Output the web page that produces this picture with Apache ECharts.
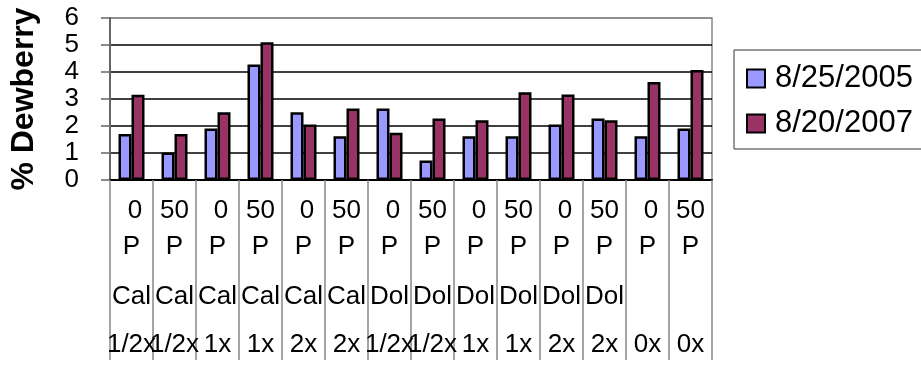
<!DOCTYPE html>
<html><head><meta charset="utf-8">
<script src="https://cdn.jsdelivr.net/npm/echarts@6/dist/echarts.min.js"></script>
<style>html,body{margin:0;padding:0;background:#fff}#c{width:921px;height:365px}</style>
</head><body><div id="c"></div>
<script>
var doses = ['0','50','0','50','0','50','0','50','0','50','0','50','0','50'];
var units = ['P','P','P','P','P','P','P','P','P','P','P','P','P','P'];
var products = ['Cal','Cal','Cal','Cal','Cal','Cal','Dol','Dol','Dol','Dol','Dol','Dol','',''];
var rates = ['1/2x','1/2x','1x','1x','2x','2x','1/2x','1/2x','1x','1x','2x','2x','0x','0x'];
var series2005 = [1.70,1.02,1.91,4.28,2.51,1.62,2.65,0.72,1.62,1.62,2.06,2.28,1.62,1.91];
var series2007 = [3.16,1.70,2.51,5.10,2.06,2.65,1.75,2.28,2.21,3.25,3.17,2.21,3.63,4.07];
var seriesNames = ['8/25/2005','8/20/2007'];

var cats = doses.map(function(d,i){return i;});
var font = 'Liberation Sans, Arial, sans-serif';
var chart = echarts.init(document.getElementById('c'));
chart.setOption({
  animation:false,
  textStyle:{fontFamily:font},
  grid:{left:104,right:209,top:18,bottom:185,show:true,borderColor:'#888',borderWidth:1.5},
  legend:{
    orient:'vertical',left:734,top:50,
    data:seriesNames,
    itemWidth:18,itemHeight:18,itemGap:14,
    padding:[13,45,10,12],
    borderColor:'#333',borderWidth:1,
    textStyle:{fontSize:31,fontFamily:font,color:'#000',padding:[0,0,0,5]},
    icon:'rect'
  },
  xAxis:{
    type:'category',data:cats,
    axisLine:{lineStyle:{color:'#000',width:2}},
    axisTick:{show:true,length:180,lineStyle:{color:'#888',width:1.5}},
    axisLabel:{
      interval:0,margin:13,color:'#000',hideOverlap:false,fontSize:26,fontFamily:font,
      formatter:function(v,i){
        var a = doses[i].length === 1 ? 'a0' : 'a';
        return '{'+a+'|'+doses[i]+'}\n{b|'+units[i]+'}\n{c|'+(products[i]||' ')+'}\n{d|'+rates[i]+'}';
      },
      rich:{
        a:{fontSize:26,lineHeight:36,fontFamily:font,color:'#000'},
        a0:{fontSize:26,lineHeight:36,fontFamily:font,color:'#000',padding:[0,0,0,7]},
        b:{fontSize:26,lineHeight:36,fontFamily:font,color:'#000'},
        c:{fontSize:26,lineHeight:64,fontFamily:font,color:'#000'},
        d:{fontSize:26,lineHeight:32,fontFamily:font,color:'#000'}
      }
    }
  },
  yAxis:{
    type:'value',min:0,max:6,interval:1,
    name:'% Dewberry',nameLocation:'middle',nameGap:70,
    nameTextStyle:{fontSize:32,fontWeight:'bold',fontFamily:font,color:'#000'},
    axisLine:{show:true,lineStyle:{color:'#666',width:2}},
    axisTick:{show:true,length:9,lineStyle:{color:'#666',width:1.5}},
    axisLabel:{fontSize:26,margin:31,color:'#000',fontFamily:font,
      formatter:function(v){return String(v);}},
    splitLine:{show:true,lineStyle:{color:['#000','#000','#000','#000','#000','#000','#888'],width:1.5}}
  },
  series:[
    {name:seriesNames[0],type:'bar',data:series2005,barWidth:13,barGap:'0%',
     itemStyle:{color:'#9999FF',borderColor:'#000',borderWidth:2.5}},
    {name:seriesNames[1],type:'bar',data:series2007,barWidth:13,barGap:'0%',
     itemStyle:{color:'#993366',borderColor:'#000',borderWidth:2.5}}
  ]
});
</script></body></html>
